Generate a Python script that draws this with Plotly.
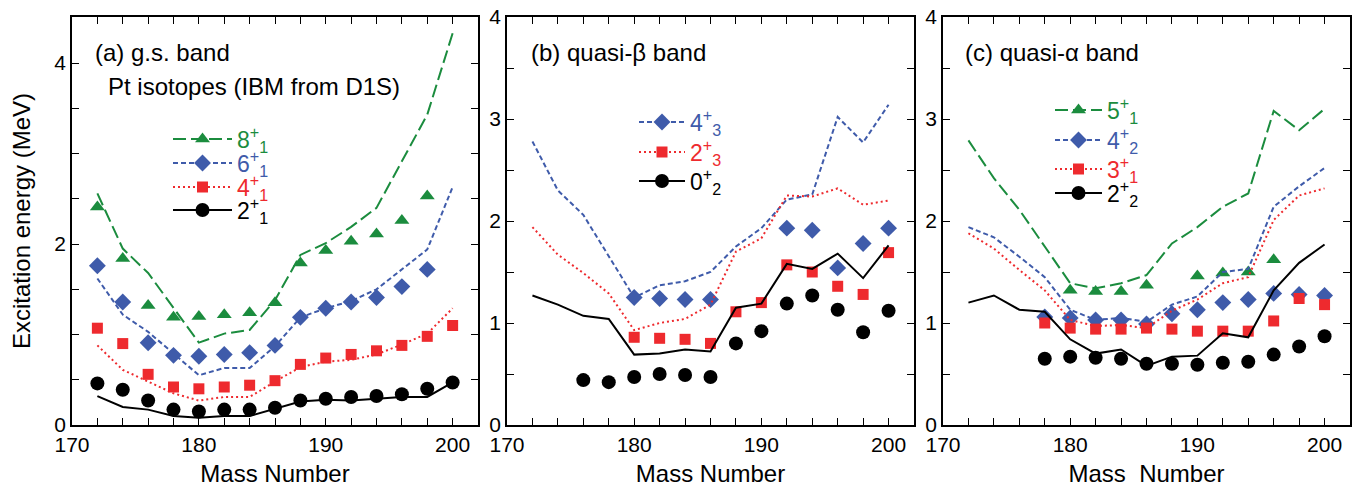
import plotly.graph_objects as go

A = [172, 174, 176, 178, 180, 182, 184, 186, 188, 190, 192, 194, 196, 198, 200]
N = None

# ---- Panel (a): g.s. band ----
a_8_exp = [2.41, 1.84, 1.32, 1.19, 1.20, 1.22, 1.24, 1.35, 1.79, 1.93, 2.03, 2.11, 2.26, 2.53, N]
a_8_th = [2.56, 1.95, 1.68, 1.30, 0.91, 1.01, 1.05, 1.38, 1.88, 2.01, 2.19, 2.40, 2.91, 3.43, 4.33]
a_6_exp = [1.76, 1.36, 0.91, 0.77, 0.76, 0.78, 0.80, 0.88, 1.19, 1.29, 1.36, 1.41, 1.53, 1.72, N]
a_6_th = [1.62, 1.22, 1.03, 0.79, 0.55, 0.63, 0.63, 0.87, 1.19, 1.29, 1.37, 1.50, 1.72, 1.94, 2.63]
a_4_exp = [1.07, 0.90, 0.56, 0.42, 0.40, 0.42, 0.44, 0.49, 0.67, 0.74, 0.78, 0.82, 0.88, 0.98, 1.10]
a_4_th = [0.88, 0.61, 0.48, 0.35, 0.27, 0.31, 0.31, 0.48, 0.64, 0.70, 0.72, 0.78, 0.89, 1.01, 1.29]
a_2_exp = [0.46, 0.39, 0.27, 0.17, 0.15, 0.17, 0.17, 0.19, 0.27, 0.29, 0.31, 0.32, 0.34, 0.40, 0.47]
a_2_th = [0.32, 0.20, 0.17, 0.10, 0.08, 0.10, 0.10, 0.18, 0.26, 0.28, 0.27, 0.29, 0.31, 0.31, 0.47]

# ---- Panel (b): quasi-beta band ----
b_43_exp = [N, N, N, N, 1.25, 1.24, 1.23, 1.23, N, N, 1.93, 1.91, 1.54, 1.78, 1.93]
b_43_th = [2.78, 2.30, 2.06, 1.65, 1.25, 1.37, 1.41, 1.50, 1.75, 1.93, 2.21, 2.26, 3.02, 2.77, 3.14]
b_23_exp = [N, N, N, N, 0.86, 0.85, 0.84, 0.80, 1.11, 1.20, 1.57, 1.50, 1.36, 1.28, 1.69]
b_23_th = [1.94, 1.67, 1.49, 1.29, 0.93, 1.00, 1.04, 1.18, 1.70, 1.83, 2.25, 2.24, 2.32, 2.16, 2.20]
b_02_exp = [N, N, 0.44, 0.42, 0.47, 0.50, 0.49, 0.47, 0.80, 0.92, 1.19, 1.27, 1.13, 0.91, 1.12]
b_02_th = [1.27, 1.18, 1.07, 1.04, 0.69, 0.70, 0.74, 0.72, 1.15, 1.19, 1.58, 1.53, 1.68, 1.44, 1.76]

# ---- Panel (c): quasi-alpha band ----
c_51_exp = [N, N, N, N, 1.32, 1.31, 1.31, 1.37, N, 1.46, 1.49, 1.50, 1.62, N, N]
c_51_th = [2.79, 2.42, 2.11, 1.75, 1.39, 1.34, 1.39, 1.47, 1.78, 1.94, 2.14, 2.27, 3.08, 2.89, 3.10]
c_42_exp = [N, N, N, 1.06, 1.05, 1.03, 1.03, 0.99, 1.09, 1.13, 1.20, 1.23, 1.29, 1.28, 1.27]
c_42_th = [1.94, 1.84, 1.65, 1.45, 1.13, 1.03, 1.05, 1.01, 1.18, 1.26, 1.50, 1.53, 2.14, 2.34, 2.52]
c_31_exp = [N, N, N, 1.00, 0.95, 0.94, 0.94, 0.95, 0.94, 0.92, 0.92, 0.92, 1.02, 1.24, 1.18]
c_31_th = [1.88, 1.73, 1.52, 1.32, 1.03, 0.97, 0.98, 0.95, 1.12, 1.23, 1.39, 1.45, 2.01, 2.25, 2.32]
c_22_exp = [N, N, N, 0.65, 0.67, 0.66, 0.65, 0.60, 0.60, 0.59, 0.61, 0.62, 0.69, 0.77, 0.87]
c_22_th = [1.20, 1.27, 1.13, 1.11, 0.84, 0.70, 0.74, 0.58, 0.67, 0.68, 0.90, 0.86, 1.32, 1.59, 1.77]

GREEN = "#1b8c3e"
BLUE = "#3f5baa"
RED = "#ee2a2e"
BLACK = "#000000"

STY = {
    "green": dict(color=GREEN, dash="13px,5px", symbol="triangle-up", size=13),
    "blue": dict(color=BLUE, dash="5px,3px", symbol="diamond", size=13),
    "red": dict(color=RED, dash="2px,3px", symbol="square", size=11),
    "black": dict(color=BLACK, dash="solid", symbol="circle", size=14),
}

FONT = "Liberation Sans, Arial, Helvetica, sans-serif"

# page body has an 8px margin: figure is drawn 8px right/down of the window origin
OFF = 8
W, H = 1370 - OFF, 487 - OFF

def fx(px):  # window px -> paper fraction (x)
    return (px - OFF) / W

def fy(py):  # window px -> paper fraction (y)
    return (H - (py - OFF)) / H

# legend placement: (left x of legend, item width, row centres) in window pixels
panels = [
    ("x", "y", 168, 59, [139, 163, 187, 210], [
        ("8", "1", "green", a_8_exp, a_8_th),
        ("6", "1", "blue", a_6_exp, a_6_th),
        ("4", "1", "red", a_4_exp, a_4_th),
        ("2", "1", "black", a_2_exp, a_2_th),
    ]),
    ("x2", "y2", 634, 46, [122, 152, 181], [
        ("4", "3", "blue", b_43_exp, b_43_th),
        ("2", "3", "red", b_23_exp, b_23_th),
        ("0", "2", "black", b_02_exp, b_02_th),
    ]),
    ("x3", "y3", 1050, 47, [110, 140, 169, 193], [
        ("5", "1", "green", c_51_exp, c_51_th),
        ("4", "2", "blue", c_42_exp, c_42_th),
        ("3", "1", "red", c_31_exp, c_31_th),
        ("2", "2", "black", c_22_exp, c_22_th),
    ]),
]

fig = go.Figure()
legends = {}
k = 0
for xa, ya, lx, iw, rows, series in panels:
    for (spin, idx, key, exp, th), ry in zip(series, rows):
        s = STY[key]
        fig.add_trace(go.Scatter(
            x=A, y=th, mode="lines", xaxis=xa, yaxis=ya, showlegend=False,
            line=dict(color=s["color"], width=2, dash=s["dash"]),
            hoverinfo="skip"))
        fig.add_trace(go.Scatter(
            x=A, y=exp, mode="markers", xaxis=xa, yaxis=ya, showlegend=False,
            marker=dict(color=s["color"], symbol=s["symbol"], size=s["size"], line=dict(width=0)),
            hoverinfo="skip"))
        k += 1
        lname = "legend" if k == 1 else f"legend{k}"
        label = (f'<span style="color:{s["color"]}">{spin}<sup>+</sup>'
                 f'<sub>{idx}</sub></span>')
        fig.add_trace(go.Scatter(
            x=[None], y=[None], mode="lines+markers", xaxis=xa, yaxis=ya,
            name=label, legend=lname, showlegend=True,
            line=dict(color=s["color"], width=2, dash=s["dash"]),
            marker=dict(color=s["color"], symbol=s["symbol"], size=s["size"], line=dict(width=0))))
        legends[lname] = dict(x=fx(lx), y=fy(ry), xanchor="left", yanchor="middle",
                              bgcolor="rgba(0,0,0,0)", borderwidth=0,
                              font=dict(family=FONT, size=23),
                              itemwidth=iw, tracegroupgap=0)

ydom = [fy(425), fy(17)]

axis_common = dict(
    showline=True, linecolor="black", linewidth=1.5, mirror="allticks",
    ticks="inside", ticklen=7, tickwidth=1.2, tickcolor="black",
    showgrid=False, zeroline=False, ticklabeloverflow="allow",
    tickfont=dict(family=FONT, size=21, color="black"),
)
minor_t = dict(ticks="inside", ticklen=7, tickwidth=1.2, tickcolor="black")
xtitle_font = dict(family=FONT, size=24, color="black")
xax = dict(axis_common, range=[170, 202], dtick=10, tick0=170, minor=dict(minor_t, dtick=2))

fig.update_layout(
    width=W, height=H,
    margin=dict(l=0, r=0, t=0, b=0),
    paper_bgcolor="white", plot_bgcolor="white",
    template="none",
    font=dict(family=FONT, size=21, color="black"),
    xaxis=dict(xax, domain=[fx(72), fx(478)], anchor="y",
               title=dict(text="Mass Number", font=xtitle_font, standoff=11)),
    xaxis2=dict(xax, domain=[fx(507), fx(914)], anchor="y2",
                title=dict(text="Mass Number", font=xtitle_font, standoff=11)),
    xaxis3=dict(xax, domain=[fx(943), fx(1350)], anchor="y3",
                title=dict(text="Mass\u00a0\u00a0Number", font=xtitle_font, standoff=11)),
    yaxis=dict(axis_common, domain=ydom, anchor="x", range=[0, 4.51], dtick=2, tick0=0,
               minor=dict(minor_t, dtick=0.5),
               title=dict(text="Excitation energy (MeV)", font=xtitle_font, standoff=18)),
    yaxis2=dict(axis_common, domain=ydom, anchor="x2", range=[0, 4.0001], dtick=1, tick0=0,
                minor=dict(minor_t, dtick=0.5)),
    yaxis3=dict(axis_common, domain=ydom, anchor="x3", range=[0, 4.0001], dtick=1, tick0=0,
                minor=dict(minor_t, dtick=0.5)),
    showlegend=True,
    **legends,
)

ann_font = dict(family=FONT, size=24, color="black")
texts = [
    ("(a) g.s. band", 93, 52),
    ("Pt isotopes (IBM from D1S)", 106, 86),
    ("(b) quasi-\u03b2 band", 529, 52),
    ("(c) quasi-\u03b1 band", 963, 52),
]
for t, px, py in texts:
    fig.add_annotation(text=t, xref="paper", yref="paper", x=fx(px), y=fy(py),
                       xanchor="left", yanchor="middle", showarrow=False, font=ann_font)

fig.write_html("out.html")
